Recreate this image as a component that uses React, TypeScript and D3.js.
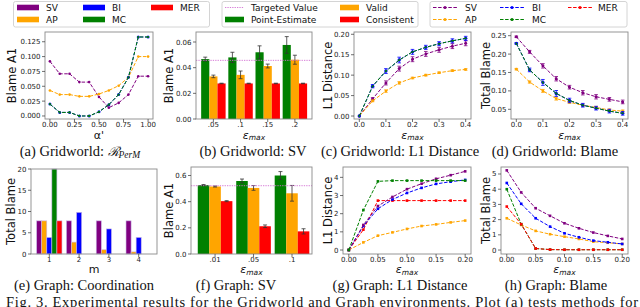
import React from 'react';
import * as d3 from 'd3';

const C: Record<string, string> = { SV: '#800080', BI: '#0000ff', MER: '#ff0000', AP: '#ffa500', MC: '#008000' };
const TARGET = '#d36ed3';
const SANS = 'DejaVu Sans, sans-serif';
const SERIF = 'Liberation Serif, Times New Roman, serif';

// ---------- (a) Gridworld: R_PerM ----------
const alphaA = [0, 0.1, 0.2, 0.3, 0.4, 0.5, 0.6, 0.7, 0.8, 0.9, 1.0];
const aSV = [0.092, 0.071, 0.071, 0.057, 0.057, 0.032, 0.014, 0.022, 0.036, 0.067, 0.067];
const aAP = [0.043, 0.036, 0.036, 0.033, 0.033, 0.037, 0.043, 0.051, 0.065, 0.100, 0.100];
const aBI = [0.020, 0.006, 0.006, 0.000, 0.000, 0.007, 0.019, 0.036, 0.065, 0.133, 0.133];
const aMC = [0.020, 0.006, 0.006, 0.000, 0.000, 0.007, 0.019, 0.036, 0.065, 0.133, 0.133];
const aXTicks = [0, 0.25, 0.5, 0.75, 1.0];
const aYTicks = [0, 0.025, 0.05, 0.075, 0.1, 0.125];

// ---------- (b) Gridworld: SV ----------
const bCats = ['.05', '.1', '.15', '.2'];
const bPoint = [0.0467, 0.048, 0.052, 0.0577];
const bPointErr = [0.0015, 0.004, 0.005, 0.0065];
const bValid = [0.0332, 0.0344, 0.0413, 0.0462];
const bValidErr = [0.001, 0.003, 0.0015, 0.0035];
const bCons = [0.0277, 0.0277, 0.0277, 0.0277];
const bConsErr = [0.0002, 0.0002, 0.0002, 0.0002];
const bTarget = 0.0457;
const bYTicks = [0, 0.02, 0.04, 0.06];

// ---------- (c) Gridworld: L1 Distance ----------
const epsG = [0, 0.05, 0.1, 0.15, 0.2, 0.25, 0.3, 0.35, 0.4];
const cSV = [0, 0.042, 0.081, 0.116, 0.139, 0.152, 0.162, 0.171, 0.178];
const cSVErr = [0, 0.003, 0.005, 0.006, 0.006, 0.006, 0.006, 0.006, 0.006];
const cBI = [0, 0.073, 0.110, 0.137, 0.157, 0.168, 0.177, 0.184, 0.190];
const cBIErr = [0, 0.004, 0.006, 0.007, 0.006, 0.005, 0.005, 0.005, 0.005];
const cMC = [0, 0.073, 0.110, 0.137, 0.157, 0.168, 0.177, 0.184, 0.190];
const cAP = [0, 0.037, 0.061, 0.081, 0.093, 0.100, 0.106, 0.111, 0.114];
const cAPErr = [0, 0.002, 0.003, 0.003, 0.002, 0.002, 0.002, 0.002, 0.002];
const cXTicks = [0, 0.1, 0.2, 0.3, 0.4];
const cYTicks = [0, 0.05, 0.1, 0.15, 0.2];

// ---------- (d) Gridworld: Blame ----------
const dSV = [0.247, 0.206, 0.168, 0.133, 0.110, 0.095, 0.084, 0.077, 0.070];
const dSVErr = [0.002, 0.004, 0.006, 0.006, 0.005, 0.006, 0.006, 0.005, 0.005];
const dBI = [0.229, 0.157, 0.123, 0.093, 0.074, 0.061, 0.053, 0.045, 0.039];
const dBIErr = [0.002, 0.005, 0.008, 0.008, 0.006, 0.005, 0.005, 0.005, 0.005];
const dMC = [0.229, 0.157, 0.123, 0.093, 0.074, 0.061, 0.053, 0.045, 0.039];
const dAP = [0.159, 0.124, 0.100, 0.079, 0.069, 0.061, 0.055, 0.048, 0.045];
const dAPErr = [0.002, 0.003, 0.004, 0.004, 0.003, 0.003, 0.003, 0.003, 0.003];
const dYTicks = [0.05, 0.1, 0.15, 0.2, 0.25];

// ---------- (e) Graph: Coordination ----------
const eM = [1, 2, 3, 4];
const eSV = [7.8, 7.8, 7.8, 7.8];
const eAP = [7.8, 2.8, 1.0, 0.5];
const eBI = [3.9, 9.8, 5.9, 3.9];
const eMC = [20, 0, 0, 0];
const eMER = [7.8, 0, 0, 0];
const eYTicks = [0, 5, 10, 15, 20];

// ---------- (f) Graph: SV ----------
const fCats = ['.01', '.05', '.1'];
const fPoint = [0.527, 0.558, 0.600];
const fPointErr = [0.004, 0.015, 0.03];
const fValid = [0.516, 0.505, 0.464];
const fValidErr = [0.004, 0.018, 0.06];
const fCons = [0.404, 0.212, 0.173];
const fConsErr = [0.004, 0.01, 0.02];
const fTarget = 0.522;
const fYTicks = [0, 0.2, 0.4, 0.6];

// ---------- (g) Graph: L1 Distance ----------
const epsH = [0, 0.025, 0.05, 0.075, 0.1, 0.125, 0.15, 0.175, 0.2];
const gSV = [0, 1.38, 2.42, 2.92, 3.35, 3.65, 3.92, 4.12, 4.33];
const gBI = [0, 1.32, 2.27, 2.78, 3.14, 3.42, 3.64, 3.76, 3.86];
const gMER = [0, 1.12, 2.72, 2.72, 2.72, 2.72, 2.72, 2.72, 2.72];
const gAP = [0, 0.42, 0.79, 0.97, 1.16, 1.32, 1.41, 1.52, 1.62];
const gMC = [0, 2.2, 3.78, 3.82, 3.82, 3.82, 3.82, 3.82, 3.82];
const gXTicks = [0, 0.05, 0.1, 0.15, 0.2];
const gYTicks = [0, 1, 2, 3, 4];

// ---------- (h) Graph: Blame ----------
const hSV = [5.24, 3.79, 2.75, 2.25, 1.76, 1.43, 1.15, 0.93, 0.73];
const hBI = [4.41, 3.04, 2.09, 1.54, 1.10, 0.84, 0.62, 0.51, 0.40];
const hMER = [2.86, 1.70, 0.10, 0.03, 0.02, 0.02, 0.02, 0.02, 0.02];
const hAP = [2.09, 1.65, 1.26, 1.04, 0.88, 0.73, 0.55, 0.48, 0.40];
const hMC = [4.0, 1.70, 0.10, 0.03, 0.02, 0.02, 0.02, 0.02, 0.02];
const hYTicks = [0, 1, 2, 3, 4, 5];

type Box = { l: number; r: number; t: number; b: number };
type Sc = (v: number) => number;

function Frame(props: {
  box: Box; x: Sc; y: Sc; xTicks: number[]; xFmt: (v: number, i: number) => string;
  yTicks: number[]; yFmt: (v: number) => string; yLabel: string; yLabelX: number;
  xLabel: React.ReactNode; children?: React.ReactNode;
}) {
  const { box, x, y } = props;
  return (
    <g>
      {props.children}
      <rect x={box.l} y={box.t} width={box.r - box.l} height={box.b - box.t} fill="none" stroke="#8a8a8a" strokeWidth={0.9} />
      {props.xTicks.map((t, i) => (
        <g key={'xt' + i}>
          <line x1={x(t)} x2={x(t)} y1={box.b} y2={box.b + 3} stroke="#333" strokeWidth={0.7} />
          <text x={x(t)} y={box.b + 7.5} textAnchor="middle" fontSize={7} fontFamily={SANS} fill="#222">{props.xFmt(t, i)}</text>
        </g>
      ))}
      {props.yTicks.map((t, i) => (
        <g key={'yt' + i}>
          <line x1={box.l - 3} x2={box.l} y1={y(t)} y2={y(t)} stroke="#333" strokeWidth={0.7} />
          <text x={box.l - 4.5} y={y(t) + 2.5} textAnchor="end" fontSize={7} fontFamily={SANS} fill="#222">{props.yFmt(t)}</text>
        </g>
      ))}
      <text transform={`translate(${props.yLabelX},${(box.t + box.b) / 2}) rotate(-90)`} textAnchor="middle" fontSize={11.5} fontFamily={SANS} fill="#111">{props.yLabel}</text>
      {props.xLabel}
    </g>
  );
}

function EpsLabel({ cx, y }: { cx: number; y: number }) {
  return (
    <text x={cx} y={y} textAnchor="middle" fontFamily={SANS} fill="#111" fontStyle="italic">
      <tspan fontSize={11}>ε</tspan>
      <tspan fontSize={7.5} dy={1.5}>max</tspan>
    </text>
  );
}

function Series(props: { xs: number[]; ys: number[]; errs?: number[]; x: Sc; y: Sc; color: string; r?: number; errColor?: string; sq?: boolean }) {
  const { xs, ys, errs, x, y, color } = props;
  const r = props.r ?? 1.5;
  const line = d3.line<number>().x((_, i) => x(xs[i])).y((v) => y(v));
  const ec = props.errColor ?? color;
  return (
    <g>
      <path d={line(ys) || ''} fill="none" stroke={color} strokeWidth={1} strokeDasharray="3.5,1.6" />
      {errs && ys.map((v, i) => errs[i] > 0 ? (
        <g key={'e' + i} stroke={ec} strokeWidth={0.8}>
          <line x1={x(xs[i])} x2={x(xs[i])} y1={y(v - errs[i])} y2={y(v + errs[i])} />
          <line x1={x(xs[i]) - 1.8} x2={x(xs[i]) + 1.8} y1={y(v - errs[i])} y2={y(v - errs[i])} />
          <line x1={x(xs[i]) - 1.8} x2={x(xs[i]) + 1.8} y1={y(v + errs[i])} y2={y(v + errs[i])} />
        </g>
      ) : null)}
      {ys.map((v, i) => props.sq ? (
        <rect key={i} x={x(xs[i]) - r} y={y(v) - r} width={2 * r} height={2 * r} fill={color} />
      ) : (
        <circle key={i} cx={x(xs[i])} cy={y(v)} r={r} fill={color} />
      ))}
    </g>
  );
}

function Bars(props: { vals: number[]; errs?: number[]; offset: number; w: number; x: Sc; y: Sc; color: string; stroke?: string }) {
  const { vals, errs, offset, w, x, y, color } = props;
  return (
    <g>
      {vals.map((v, i) => {
        const x0 = x(i + offset - w / 2);
        const x1 = x(i + offset + w / 2);
        const y0 = y(0);
        const yv = y(v);
        return v > 0 ? (
          <rect key={i} x={x0} y={Math.min(yv, y0)} width={x1 - x0} height={Math.abs(y0 - yv)} fill={color} stroke={props.stroke ?? 'none'} strokeWidth={0.6} />
        ) : null;
      })}
      {errs && vals.map((v, i) => {
        const cx = x(i + offset);
        return (
          <g key={'e' + i} stroke="#333" strokeWidth={0.8}>
            <line x1={cx} x2={cx} y1={y(v - errs[i])} y2={y(v + errs[i])} />
            <line x1={cx - 2} x2={cx + 2} y1={y(v - errs[i])} y2={y(v - errs[i])} />
            <line x1={cx - 2} x2={cx + 2} y1={y(v + errs[i])} y2={y(v + errs[i])} />
          </g>
        );
      })}
    </g>
  );
}

const f2 = (d: number) => (v: number) => v.toFixed(d);

export default function App() {
  const A: Box = { l: 45, r: 153, t: 32, b: 119 };
  const B: Box = { l: 196, r: 312, t: 32, b: 119 };
  const Cb: Box = { l: 354, r: 471, t: 32, b: 119 };
  const D: Box = { l: 511, r: 628, t: 32, b: 119 };
  const E: Box = { l: 31, r: 157, t: 169, b: 254 };
  const F: Box = { l: 191, r: 312, t: 167, b: 254 };
  const G: Box = { l: 343, r: 471, t: 167, b: 254 };
  const H: Box = { l: 501, r: 628, t: 167, b: 254 };

  const ax = d3.scaleLinear().domain([-0.05, 1.05]).range([A.l, A.r]);
  const ay = d3.scaleLinear().domain([-0.0051, 0.1414]).range([A.b, A.t]);
  const bx = d3.scaleLinear().domain([-0.64, 3.63]).range([B.l, B.r]);
  const by = d3.scaleLinear().domain([0, 0.0678]).range([B.b, B.t]);
  const cx = d3.scaleLinear().domain([-0.02, 0.42]).range([Cb.l, Cb.r]);
  const cy = d3.scaleLinear().domain([-0.0073, 0.2056]).range([Cb.b, Cb.t]);
  const dx = d3.scaleLinear().domain([-0.02, 0.42]).range([D.l, D.r]);
  const dy = d3.scaleLinear().domain([0.0236, 0.26]).range([D.b, D.t]);
  const ex = d3.scaleLinear().domain([0.385, 4.615]).range([E.l, E.r]);
  const ey = d3.scaleLinear().domain([0, 20]).range([E.b, E.t]);
  const fx = d3.scaleLinear().domain([-0.626, 2.52]).range([F.l, F.r]);
  const fy = d3.scaleLinear().domain([0, 0.665]).range([F.b, F.t]);
  const gx = d3.scaleLinear().domain([-0.01, 0.21]).range([G.l, G.r]);
  const gy = d3.scaleLinear().domain([-0.22, 4.57]).range([G.b, G.t]);
  const hx = d3.scaleLinear().domain([-0.01, 0.21]).range([H.l, H.r]);
  const hy = d3.scaleLinear().domain([-0.26, 5.46]).range([H.b, H.t]);

  const ew = 0.17;

  const capStyle = { fontFamily: SERIF, fontSize: 14.5, fill: '#111' } as const;

  return (
    <svg width={640} height={307} style={{ position: 'absolute', left: 0, top: 0, background: '#fff' }}>
      <rect x={0} y={0} width={640} height={307} fill="#fff" />

      {/* Legend 1 */}
      <g fontFamily={SANS} fontSize={9} fill="#111">
        <rect x={13.5} y={1.5} width={196} height={25.5} rx={2} fill="#fff" stroke="#cfcfcf" strokeWidth={0.9} />
        {[
          ['SV', 17, 7.5], ['BI', 83, 7.5], ['MER', 151, 7.5], ['AP', 17, 19.5], ['MC', 83, 19.5],
        ].map(([k, x, y]) => (
          <g key={k as string}>
            <rect x={x as number} y={(y as number) - 2.8} width={22} height={5.6} fill={C[k as string]} />
            <text x={(x as number) + 29} y={(y as number) + 3.2}>{k}</text>
          </g>
        ))}
      </g>

      {/* Legend 2 */}
      <g fontFamily={SANS} fontSize={9} fill="#111">
        <rect x={222} y={1.5} width={196} height={25.5} rx={2} fill="#fff" stroke="#cfcfcf" strokeWidth={0.9} />
        <line x1={225} x2={244} y1={7.5} y2={7.5} stroke={TARGET} strokeWidth={0.9} strokeDasharray="1.3,1.1" />
        <text x={251} y={10.7}>Targeted Value</text>
        <rect x={225} y={16.7} width={19} height={5.6} fill={C.MC} />
        <text x={251} y={22.7}>Point-Estimate</text>
        <rect x={340} y={4.7} width={19} height={5.6} fill={C.AP} />
        <text x={366} y={10.7}>Valid</text>
        <rect x={340} y={16.7} width={19} height={5.6} fill={C.MER} />
        <text x={366} y={22.7}>Consistent</text>
      </g>

      {/* Legend 3 */}
      <g fontFamily={SANS} fontSize={9} fill="#111">
        <rect x={430} y={1.5} width={197} height={25.5} rx={2} fill="#fff" stroke="#cfcfcf" strokeWidth={0.9} />
        {[
          ['SV', 433, 7.5], ['BI', 500, 7.5], ['MER', 568, 7.5], ['AP', 433, 19.5], ['MC', 500, 19.5],
        ].map(([k, x, y]) => (
          <g key={k as string}>
            <line x1={x as number} x2={(x as number) + 24} y1={y as number} y2={y as number} stroke={C[k as string]} strokeWidth={1} strokeDasharray="3.5,1.6" />
            <circle cx={(x as number) + 12} cy={y as number} r={1.6} fill={C[k as string]} />
            <text x={(x as number) + (k === 'MER' ? 30 : 32)} y={(y as number) + 3.2}>{k}</text>
          </g>
        ))}
      </g>

      {/* (a) */}
      <Frame box={A} x={ax} y={ay} xTicks={aXTicks} xFmt={(v) => v.toFixed(2)} yTicks={aYTicks} yFmt={f2(3)} yLabel="Blame A1" yLabelX={16}
        xLabel={<text x={(A.l + A.r) / 2} y={139} textAnchor="middle" fontSize={11} fontFamily={SANS} fill="#111">α'</text>}>
        <Series xs={alphaA} ys={aSV} x={ax} y={ay} color={C.SV} r={1.3} />
        <Series xs={alphaA} ys={aAP} x={ax} y={ay} color={C.AP} r={1.3} />
        <Series xs={alphaA} ys={aBI} x={ax} y={ay} color={C.BI} r={1.5} />
        <Series xs={alphaA} ys={aMC} x={ax} y={ay} color={C.MC} r={1.1} />
      </Frame>

      {/* (b) */}
      <Frame box={B} x={bx} y={by} xTicks={bCats.map((_, i) => i)} xFmt={(_, i) => bCats[i]} yTicks={bYTicks} yFmt={f2(2)} yLabel="Blame A1" yLabelX={173}
        xLabel={<EpsLabel cx={(B.l + B.r) / 2} y={138.5} />}>
        <Bars vals={bPoint} errs={bPointErr} offset={-0.3} w={0.3} x={bx} y={by} color={C.MC} />
        <Bars vals={bValid} errs={bValidErr} offset={0} w={0.3} x={bx} y={by} color={C.AP} />
        <Bars vals={bCons} errs={bConsErr} offset={0.3} w={0.3} x={bx} y={by} color={C.MER} />
        <line x1={B.l} x2={B.r} y1={by(bTarget)} y2={by(bTarget)} stroke={TARGET} strokeWidth={0.9} strokeDasharray="1.3,1.1" />
      </Frame>

      {/* (c) */}
      <Frame box={Cb} x={cx} y={cy} xTicks={cXTicks} xFmt={f2(1)} yTicks={cYTicks} yFmt={f2(2)} yLabel="L1 Distance" yLabelX={332}
        xLabel={<EpsLabel cx={(Cb.l + Cb.r) / 2} y={138.5} />}>
        <Series xs={epsG} ys={cSV} errs={cSVErr} x={cx} y={cy} color={C.SV} />
        <Series xs={epsG} ys={cAP} errs={cAPErr} x={cx} y={cy} color={C.AP} r={1.3} />
        <Series xs={epsG} ys={cBI} errs={cBIErr} x={cx} y={cy} color={C.BI} r={1.7} />
        <Series xs={epsG} ys={cMC} x={cx} y={cy} color={C.MC} r={1.0} />
      </Frame>

      {/* (d) */}
      <Frame box={D} x={dx} y={dy} xTicks={cXTicks} xFmt={f2(1)} yTicks={dYTicks} yFmt={f2(2)} yLabel="Total Blame" yLabelX={490}
        xLabel={<EpsLabel cx={(D.l + D.r) / 2} y={138.5} />}>
        <Series xs={epsG} ys={dSV} errs={dSVErr} x={dx} y={dy} color={C.SV} />
        <Series xs={epsG} ys={dAP} errs={dAPErr} x={dx} y={dy} color={C.AP} r={1.3} />
        <Series xs={epsG} ys={dBI} errs={dBIErr} x={dx} y={dy} color={C.BI} r={1.7} />
        <Series xs={epsG} ys={dMC} x={dx} y={dy} color={C.MC} r={1.0} />
      </Frame>

      {/* (e) */}
      <Frame box={E} x={ex} y={ey} xTicks={eM} xFmt={(v) => String(v)} yTicks={eYTicks} yFmt={(v) => String(v)} yLabel="Total Blame" yLabelX={15}
        xLabel={<text x={(E.l + E.r) / 2} y={273} textAnchor="middle" fontSize={11} fontFamily={SANS} fill="#111">m</text>}>
        <Bars vals={eSV} offset={1 - 2 * ew} w={ew} x={ex} y={ey} color={C.SV} stroke="#c9b6e6" />
        <Bars vals={eAP} offset={1 - ew} w={ew} x={ex} y={ey} color={C.AP} stroke="#c9b6e6" />
        <Bars vals={eBI} offset={1} w={ew} x={ex} y={ey} color={C.BI} stroke="#c9b6e6" />
        <Bars vals={eMC} offset={1 + ew} w={ew} x={ex} y={ey} color={C.MC} stroke="#c9b6e6" />
        <Bars vals={eMER} offset={1 + 2 * ew} w={ew} x={ex} y={ey} color={C.MER} stroke="#c9b6e6" />
      </Frame>

      {/* (f) */}
      <Frame box={F} x={fx} y={fy} xTicks={fCats.map((_, i) => i)} xFmt={(_, i) => fCats[i]} yTicks={fYTicks} yFmt={f2(1)} yLabel="Blame A1" yLabelX={173}
        xLabel={<EpsLabel cx={(F.l + F.r) / 2} y={273} />}>
        <Bars vals={fPoint} errs={fPointErr} offset={-0.3} w={0.3} x={fx} y={fy} color={C.MC} />
        <Bars vals={fValid} errs={fValidErr} offset={0} w={0.3} x={fx} y={fy} color={C.AP} />
        <Bars vals={fCons} errs={fConsErr} offset={0.3} w={0.3} x={fx} y={fy} color={C.MER} />
        <line x1={F.l} x2={F.r} y1={fy(fTarget)} y2={fy(fTarget)} stroke={TARGET} strokeWidth={0.9} strokeDasharray="1.3,1.1" />
      </Frame>

      {/* (g) */}
      <Frame box={G} x={gx} y={gy} xTicks={gXTicks} xFmt={f2(2)} yTicks={gYTicks} yFmt={(v) => String(v)} yLabel="L1 Distance" yLabelX={332}
        xLabel={<EpsLabel cx={(G.l + G.r) / 2} y={273} />}>
        <Series xs={epsH} ys={gAP} x={gx} y={gy} color={C.AP} sq r={1.3} />
        <Series xs={epsH} ys={gMER} x={gx} y={gy} color={C.MER} sq r={1.3} />
        <Series xs={epsH} ys={gBI} x={gx} y={gy} color={C.BI} sq r={1.3} />
        <Series xs={epsH} ys={gSV} x={gx} y={gy} color={C.SV} sq r={1.3} />
        <Series xs={epsH} ys={gMC} x={gx} y={gy} color={C.MC} sq r={1.3} />
      </Frame>

      {/* (h) */}
      <Frame box={H} x={hx} y={hy} xTicks={gXTicks} xFmt={f2(2)} yTicks={hYTicks} yFmt={(v) => String(v)} yLabel="Total Blame" yLabelX={490}
        xLabel={<EpsLabel cx={(H.l + H.r) / 2} y={273} />}>
        <Series xs={epsH} ys={hAP} x={hx} y={hy} color={C.AP} sq r={1.3} />
        <Series xs={epsH} ys={hMC} x={hx} y={hy} color={C.MC} sq r={1.3} />
        <Series xs={epsH} ys={hMER} x={hx} y={hy} color={C.MER} sq r={1.3} />
        <Series xs={epsH} ys={hBI} x={hx} y={hy} color={C.BI} sq r={1.3} />
        <Series xs={epsH} ys={hSV} x={hx} y={hy} color={C.SV} sq r={1.3} />
      </Frame>

      {/* Captions */}
      <text x={80} y={155.5} textAnchor="middle" {...capStyle}>
        (a) Gridworld: <tspan fontFamily="DejaVu Serif, serif" fontStyle="italic" fontSize={13}>ℛ</tspan>
        <tspan fontSize={9.5} fontStyle="italic" dy={2.5}>PerM</tspan>
      </text>
      <text x={253} y={155.5} textAnchor="middle" {...capStyle}>(b) Gridworld: SV</text>
      <text x={400} y={155.5} textAnchor="middle" {...capStyle}>(c) Gridworld: L1 Distance</text>
      <text x={555} y={155.5} textAnchor="middle" {...capStyle}>(d) Gridworld: Blame</text>
      <text x={84} y={289.5} textAnchor="middle" {...capStyle}>(e) Graph: Coordination</text>
      <text x={236} y={289.5} textAnchor="middle" {...capStyle}>(f) Graph: SV</text>
      <text x={400} y={289.5} textAnchor="middle" {...capStyle}>(g) Graph: L1 Distance</text>
      <text x={556} y={289.5} textAnchor="middle" {...capStyle}>(h) Graph: Blame</text>
      <text x={6} y={306.5} {...capStyle} textLength={632} lengthAdjust="spacing">Fig. 3. Experimental results for the Gridworld and Graph environments. Plot (a) tests methods for</text>
    </svg>
  );
}
